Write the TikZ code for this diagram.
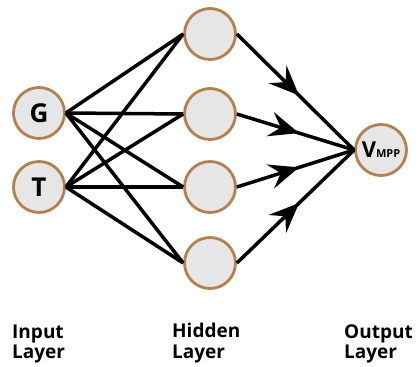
\documentclass[tikz,border=0pt]{standalone}
\usepackage{fontspec}
\setmainfont{Open Sans}
\usetikzlibrary{arrows.meta,decorations.markings}
\definecolor{ringc}{HTML}{B3804F}
\definecolor{fillc}{HTML}{E6E6E6}
\tikzset{
  neuron/.style={circle,draw=ringc,fill=fillc,line width=2.8pt,minimum size=51pt,inner sep=0pt},
  wire/.style={line width=3.5pt,black},
  midarrow/.style={wire,postaction={decorate},decoration={markings,
     mark=at position 0.53 with {\arrow{Stealth[length=30pt,width=25pt,inset=11pt]}}}},
  lab/.style={anchor=base west,inner sep=0pt,font=\fontsize{19}{22}\selectfont\bfseries}
}
\begin{document}
\begin{tikzpicture}[x=1pt,y=-1pt]
\useasboundingbox (0,0) rectangle (419,366);
\node[neuron] (G) at (39,113) {\fontsize{26}{28}\selectfont\bfseries G};
\node[neuron] (T) at (39,187) {\fontsize{26}{28}\selectfont\bfseries T};
\node[neuron] (H1) at (210,34) {};
\node[neuron] (H2) at (210,114) {};
\node[neuron] (H3) at (210,187) {};
\node[neuron] (H4) at (210,263) {};
\node[neuron] (O) at (381,150) {\bfseries\fontsize{22}{24}\selectfont V\fontsize{11}{13}\selectfont MPP};
\foreach \i in {1,2,3,4}{
  \draw[wire] (G.east) -- (H\i.west);
  \draw[wire] (T.east) -- (H\i.west);
  \draw[midarrow] (H\i.east) -- (O.west);
}
\node[lab] (in1) at (12,338) {Input};
\node[lab] (in2) at (12,358) {Layer};
\node[lab] (hd1) at (172,337) {Hidden};
\node[lab] (hd2) at (172,358) {Layer};
\node[lab] (ou1) at (344,338) {Output};
\node[lab] (ou2) at (344,358) {Layer};
\end{tikzpicture}
\end{document}
